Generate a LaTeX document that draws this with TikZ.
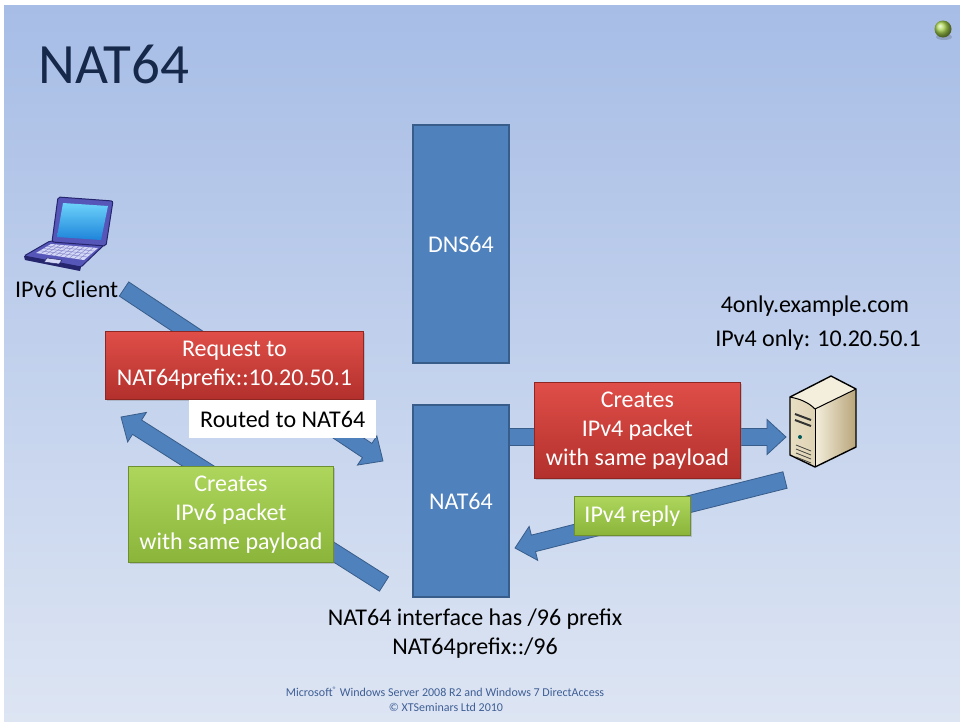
\documentclass[tikz,border=0pt]{standalone}
\usepackage{fontspec}
\setmainfont{Carlito}
\usetikzlibrary{calc,shadows}

\definecolor{slidetop}{HTML}{A7BDE6}
\definecolor{slidebot}{HTML}{DDE5F3}
\definecolor{boxblue}{HTML}{4F81BD}
\definecolor{boxblueline}{HTML}{385D8A}
\definecolor{redtop}{HTML}{E04E48}
\definecolor{redbot}{HTML}{B2302C}
\definecolor{redline}{HTML}{8E2724}
\definecolor{greentop}{HTML}{AED65C}
\definecolor{greenbot}{HTML}{8AB43A}
\definecolor{greenline}{HTML}{6E8F30}
\definecolor{titleink}{HTML}{17294A}
\definecolor{footink}{HTML}{3E5F95}
\definecolor{ballgreen}{HTML}{A8D44E}
\definecolor{lidframe}{HTML}{5656B8}
\definecolor{lidline}{HTML}{25256E}
\definecolor{screenhi}{HTML}{6CD2FA}
\definecolor{screenlo}{HTML}{1E84DA}
\definecolor{keys}{HTML}{D4D8F6}
\definecolor{srvtop}{HTML}{F4EEDC}
\definecolor{srvfront}{HTML}{E8DEC2}
\definecolor{srvside}{HTML}{B8A57A}

\pgfdeclarelayer{slide}
\pgfdeclarelayer{arrows}
\pgfsetlayers{slide,arrows,main}

\tikzset{
  body/.style={font=\fontsize{24}{28.8}\selectfont},
  plaintext/.style={body, text=black, inner sep=0pt},
  procbox/.style={draw=boxblueline, line width=2pt, fill=boxblue, text=white,
    body, inner sep=0pt, anchor=north west},
  msgbox/.style={text=white, body, align=center, inner sep=0pt, anchor=north west,
    line width=0.8pt,
    drop shadow={shadow xshift=1.5pt, shadow yshift=-2pt, opacity=0.35}},
  redmsg/.style={msgbox, draw=redline, top color=redtop, bottom color=redbot},
  greenmsg/.style={msgbox, draw=greenline, top color=greentop, bottom color=greenbot},
  notebox/.style={fill=white, body, text=black, inner sep=0pt, anchor=north west},
  arrowbody/.style={fill=boxblue, draw=boxblueline, line width=0.8pt, line join=miter},
  footer/.style={font=\fontsize{12}{14}\selectfont, text=footink, inner sep=0pt},
}

% block arrow from tail coordinate #1 to tip coordinate #2
\newcommand\blockarrow[2]{%
  \coordinate (#1-hb) at ($(#2)!19pt!(#1)$);
  \draw[arrowbody]
    ($(#1)!8.5pt!90:(#2)$) -- ($(#1-hb)!8.5pt!90:(#2)$)
    -- ($(#1-hb)!17.5pt!90:(#2)$) -- (#2)
    -- ($(#1-hb)!17.5pt!-90:(#2)$) -- ($(#1-hb)!8.5pt!-90:(#2)$)
    -- ($(#1)!8.5pt!-90:(#2)$) -- cycle;}

\begin{document}
\begin{tikzpicture}[x=1pt,y=-1pt]
\useasboundingbox (0,0) rectangle (960,721);

% slide background
\begin{pgfonlayer}{slide}
  \fill[white] (0,0) rectangle (960,721);
  \shade[top color=slidetop, bottom color=slidebot] (4,5) rectangle (960,721);
  % bullet ball
  \fill[black, opacity=0.15] (944,37) ellipse (8pt and 3pt);
  \shade[ball color=ballgreen] (943,29) circle (8.5pt);
\end{pgfonlayer}

% title
\node[anchor=base west, font=\fontsize{57}{62}\selectfont, text=titleink, inner sep=0pt]
  (title) at (38,83) {NAT64};

% processing boxes
\node[procbox, minimum width=96pt, minimum height=238pt] (dns) at (412,124) {DNS64};
\node[procbox, minimum width=96pt, minimum height=192pt] (nat) at (412,404) {NAT64};

% laptop (IPv6 client)
\coordinate (client) at (70,235);
\fill[lidframe, draw=lidline, line width=1pt, rounded corners=1.5pt]
  (50,241) -- (104,245) -- (81,267) -- (24,256) -- cycle;
\fill[lidline] (24,256) -- (25,260) -- (80,271) -- (81,267) -- cycle;
\coordinate (k1) at (51,244); \coordinate (k2) at (98,248);
\coordinate (k3) at (84,260); \coordinate (k4) at (36,253);
\fill[keys] (k1) -- (k2) -- (k3) -- (k4) -- cycle;
\foreach \f in {0.25,0.5,0.75}
  \draw[lidframe!70, line width=0.5pt] ($(k1)!\f!(k4)$) -- ($(k2)!\f!(k3)$);
\foreach \f in {0.1,0.2,...,0.95}
  \draw[lidframe!70, line width=0.5pt] ($(k1)!\f!(k2)$) -- ($(k4)!\f!(k3)$);
\fill[keys, draw=lidline, line width=0.5pt] (47,258) -- (62,260) -- (59,264) -- (44,262) -- cycle;
\fill[lidframe, draw=lidline, line width=1pt, rounded corners=2pt]
  (58,197) -- (113,201) -- (106,246) -- (52,242) -- cycle;
\shade[top color=screenhi, bottom color=screenlo]
  (63,203) -- (108,206) -- (101,240) -- (57,237) -- cycle;
\node[plaintext, anchor=west] (clientlbl) at (15,289) {IPv6 Client};

% server (IPv4-only host)
\coordinate (server) at (823,421);
\fill[srvtop] (790,397) -- (831,376) -- (856,389) -- (815,409) -- cycle;
\shade[left color=srvfront, right color=srvfront!80!srvside]
  (790,397) .. controls (800,399) and (808,402) .. (815,409) -- (815,467) -- (790,455) -- cycle;
\shade[left color=srvtop, right color=srvside]
  (815,409) -- (856,389) -- (856,447) -- (815,467) -- cycle;
\draw[black, line width=1.4pt, line join=round]
  (790,397) -- (831,376) -- (856,389) -- (856,447) -- (815,467) -- (790,455) -- cycle;
\draw[black, line width=1pt] (790,397) .. controls (800,399) and (808,402) .. (815,409) -- (856,389);
\draw[black, line width=1pt] (815,409) -- (815,467);
\draw[black!80, line width=2pt] (795,414) -- (811,420);
\draw[black!80, line width=2pt] (795,420) -- (811,426);
\fill[teal!70!black] (800,437) circle (2pt);
\foreach \v in {0,4,8,12}
  \draw[black!75, line width=0.8pt] (796,445+\v) -- (811,451+\v);
\node[plaintext] (hostname) at (815,306) {4only.example.com};
\node[plaintext] (hostaddr) at (818,340) {IPv4 only: 10.20.50.1};

% block arrows
\begin{pgfonlayer}{arrows}
  \coordinate (c2n-t) at (124,289);  \coordinate (c2n-h) at (383,461);
  \coordinate (n2c-t) at (384,584);  \coordinate (n2c-h) at (121,417);
  \coordinate (n2s-t) at (507,437);  \coordinate (n2s-h) at (786,437);
  \coordinate (s2n-t) at (785,480);  \coordinate (s2n-h) at (515,548);
  \blockarrow{c2n-t}{c2n-h}
  \blockarrow{n2c-t}{n2c-h}
  \blockarrow{n2s-t}{n2s-h}
  \blockarrow{s2n-t}{s2n-h}
\end{pgfonlayer}

% message boxes
\node[redmsg, minimum width=258pt, minimum height=68pt] (req) at (105,331)
  {Request to\\NAT64prefix::10.20.50.1};
\node[notebox, minimum width=187pt, minimum height=38pt] (routed) at (189,400)
  {Routed to NAT64};
\node[greenmsg, minimum width=205pt, minimum height=96pt] (v6pkt) at (128,466)
  {Creates\\IPv6 packet\\with same payload};
\node[redmsg, minimum width=206pt, minimum height=96pt] (v4pkt) at (534,382)
  {Creates\\IPv4 packet\\with same payload};
\node[greenmsg, minimum width=116pt, minimum height=39pt] (reply) at (574,496)
  {IPv4 reply};

% interface note
\node[plaintext] (ifnote) at (475,619) {NAT64 interface has /96 prefix};
\node[plaintext] (ifprefix) at (475,648) {NAT64prefix::/96};

% footer
\node[footer] (foot1) at (445,692) {Microsoft\textsuperscript{®} Windows Server 2008 R2 and Windows 7 DirectAccess};
\node[footer] (foot2) at (446,707) {© XTSeminars Ltd 2010};
\end{tikzpicture}
\end{document}
